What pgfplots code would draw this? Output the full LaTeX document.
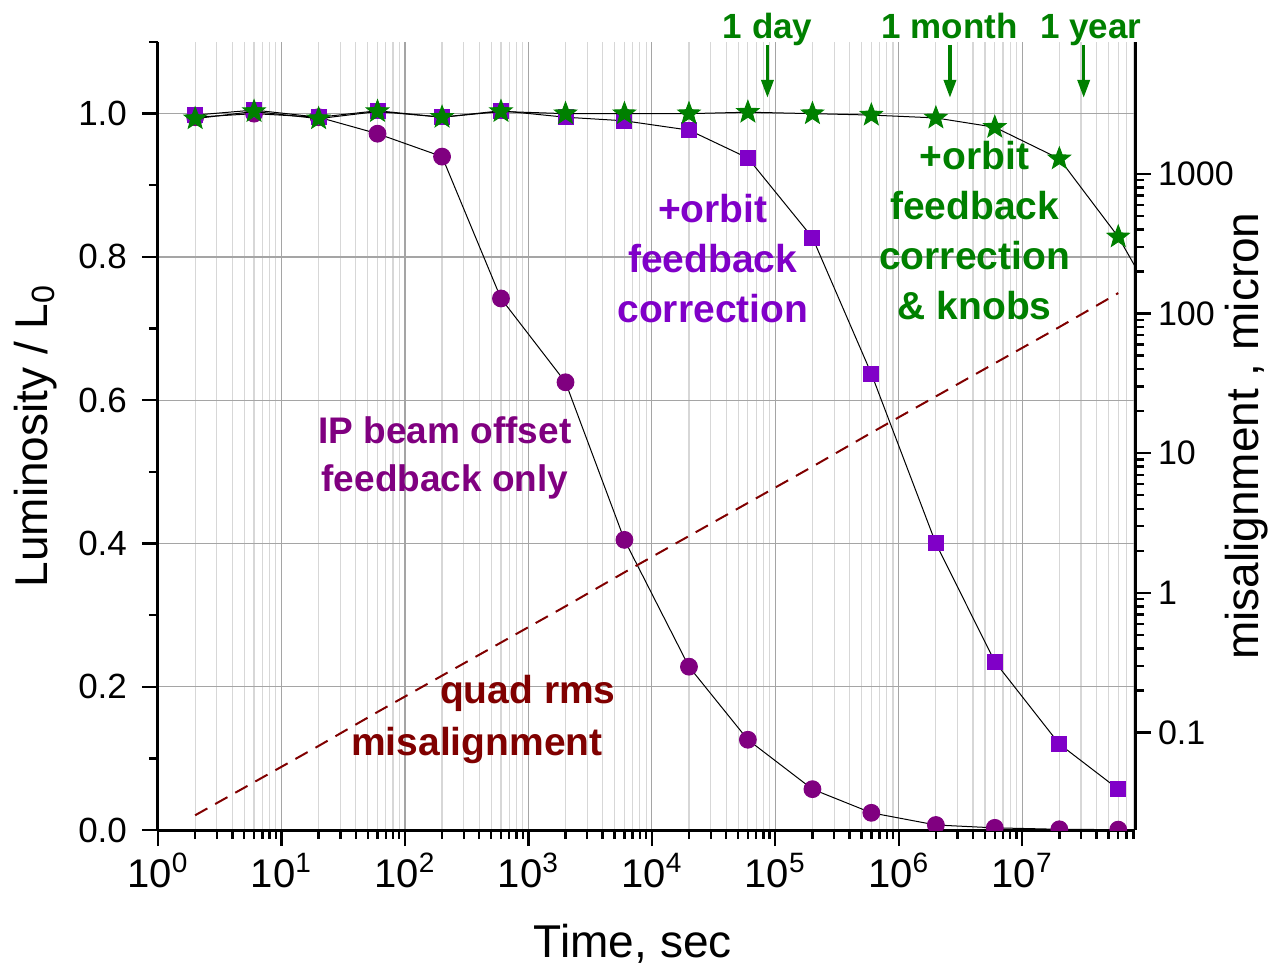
\documentclass[border=0pt]{standalone}
\usepackage{pgfplots}
\pgfplotsset{compat=1.18}
\usepackage{fontspec}
\setmainfont{Liberation Sans}
\usetikzlibrary{arrows.meta}

\definecolor{circ}{RGB}{128,0,128}
\definecolor{sq}{RGB}{128,0,200}
\definecolor{stargreen}{RGB}{0,128,0}
\definecolor{quad}{RGB}{128,0,0}
\definecolor{gmaj}{RGB}{165,165,165}
\definecolor{gmin}{RGB}{215,215,215}

% filled five-pointed star
\pgfdeclareplotmark{fstar}{%
  \pgfpathmoveto{\pgfqpointpolar{90}{\pgfplotmarksize}}%
  \pgfpathlineto{\pgfqpointpolar{126}{0.42\pgfplotmarksize}}%
  \pgfpathlineto{\pgfqpointpolar{162}{\pgfplotmarksize}}%
  \pgfpathlineto{\pgfqpointpolar{198}{0.42\pgfplotmarksize}}%
  \pgfpathlineto{\pgfqpointpolar{234}{\pgfplotmarksize}}%
  \pgfpathlineto{\pgfqpointpolar{270}{0.42\pgfplotmarksize}}%
  \pgfpathlineto{\pgfqpointpolar{306}{\pgfplotmarksize}}%
  \pgfpathlineto{\pgfqpointpolar{342}{0.42\pgfplotmarksize}}%
  \pgfpathlineto{\pgfqpointpolar{18}{\pgfplotmarksize}}%
  \pgfpathlineto{\pgfqpointpolar{54}{0.42\pgfplotmarksize}}%
  \pgfpathclose
  \pgfusepathqfillstroke
}

\begin{document}
\begin{tikzpicture}
\begin{axis}[name=main,
  scale only axis, width=488.5pt, height=394pt,
  xmode=log, xmin=1, xmax=8.2e7,
  ymin=0, ymax=1.1,
  axis x line*=bottom, axis y line*=left,
  axis line style={line width=1.5pt,-},
  tick style={line width=1.2pt, black},
  tick align=outside,
  major tick length=8pt, minor tick length=4.5pt,
  xtick={1,10,100,1e3,1e4,1e5,1e6,1e7},
  xticklabels={10\textsuperscript{0},10\textsuperscript{1},10\textsuperscript{2},10\textsuperscript{3},10\textsuperscript{4},10\textsuperscript{5},10\textsuperscript{6},10\textsuperscript{7}},
  minor xtick={2,3,4,5,6,7,8,9,20,30,40,50,60,70,80,90,200,300,400,500,600,700,800,900,
    2e3,3e3,4e3,5e3,6e3,7e3,8e3,9e3,2e4,3e4,4e4,5e4,6e4,7e4,8e4,9e4,
    2e5,3e5,4e5,5e5,6e5,7e5,8e5,9e5,2e6,3e6,4e6,5e6,6e6,7e6,8e6,9e6,
    2e7,3e7,4e7,5e7,6e7,7e7,8e7},
  ytick={0,0.2,0.4,0.6,0.8,1.0},
  minor ytick={0.1,0.3,0.5,0.7,0.9,1.1},
  yticklabel style={/pgf/number format/fixed, /pgf/number format/fixed zerofill, /pgf/number format/precision=1, /pgf/number format/assume math mode=true, font=\fontsize{17.5}{17.5}\selectfont, xshift=-4pt},
  xticklabel style={font=\fontsize{20}{20}\selectfont},
  xmajorgrids, xminorgrids, ymajorgrids,
  major grid style={gmaj, line width=0.6pt},
  minor grid style={gmin, line width=0.6pt},
  clip mode=individual, clip marker paths=true,
  xlabel={Time, sec},
  xlabel style={font=\fontsize{23}{23}\selectfont, at={(axis description cs:0.486,0)}, anchor=base, yshift=-63.5pt},
  ylabel={Luminosity / L\textsubscript{0}},
  ylabel style={font=\fontsize{23}{23}\selectfont, at={(axis description cs:-0.1136,0.5)}, anchor=base},
]
% IP beam offset feedback only
\addplot[black, line width=0.5pt, mark=*, mark size=4.2pt, mark options={fill=circ, draw=circ}] coordinates {
  (2,0.995) (6,1.0) (20,0.995) (60,0.972) (200,0.940) (600,0.742) (2000,0.625)
  (6000,0.405) (2e4,0.228) (6e4,0.126) (2e5,0.057) (6e5,0.024) (2e6,0.007)
  (6e6,0.003) (2e7,0.001) (6e7,0.0005)};
% + orbit feedback correction
\addplot[black, line width=0.5pt, mark=square*, mark size=3.75pt, mark options={fill=sq, draw=sq}] coordinates {
  (2,0.998) (6,1.005) (20,0.995) (60,1.004) (200,0.995) (600,1.004) (2000,0.995)
  (6000,0.990) (2e4,0.977) (6e4,0.938) (2e5,0.827) (6e5,0.637) (2e6,0.400)
  (6e6,0.235) (2e7,0.120) (6e7,0.057)};
% + orbit feedback correction & knobs
\addplot[black, line width=0.5pt, mark=fstar, mark size=5.8pt, mark options={fill=stargreen, draw=stargreen}] coordinates {
  (2,0.993) (6,1.003) (20,0.993) (60,1.003) (200,0.995) (600,1.003) (2000,1.0)
  (6000,1.0) (2e4,1.0) (6e4,1.002) (2e5,1.0) (6e5,0.998) (2e6,0.994)
  (6e6,0.981) (2e7,0.937) (6e7,0.828) (2e8,0.67)};

\node[text=sq, align=center, font=\bfseries\fontsize{19.5}{25}\selectfont] at (axis cs:31200,0.798) {+orbit\\feedback\\correction};
\node[text=stargreen, align=center, font=\bfseries\fontsize{19.5}{25}\selectfont] at (axis cs:4.12e6,0.837) {+orbit\\feedback\\correction\\\& knobs};
\node[text=circ, align=center, font=\bfseries\fontsize{18.5}{24}\selectfont] at (axis cs:211,0.520) {IP beam offset\\feedback only};
\node[text=quad, font=\bfseries\fontsize{19.5}{19.5}\selectfont] at (axis cs:991,0.190) {quad rms};
\node[text=quad, font=\bfseries\fontsize{19.5}{19.5}\selectfont] at (axis cs:383,0.1186) {misalignment};

\node[text=stargreen, anchor=base, font=\bfseries\fontsize{17.5}{17.5}\selectfont] at (axis cs:86900,1.105) {1 day};
\node[text=stargreen, anchor=base, font=\bfseries\fontsize{17.5}{17.5}\selectfont] at (axis cs:2.59e6,1.105) {1 month};
\node[text=stargreen, anchor=base, font=\bfseries\fontsize{17.5}{17.5}\selectfont] at (axis cs:3.59e7,1.105) {1 year};
\draw[stargreen, line width=1.75pt, -{Triangle[width=6pt,length=9pt]}] (axis cs:86400,1.096) -- (axis cs:86400,1.022);
\draw[stargreen, line width=1.75pt, -{Triangle[width=6pt,length=9pt]}] (axis cs:2.6e6,1.096) -- (axis cs:2.6e6,1.022);
\draw[stargreen, line width=1.75pt, -{Triangle[width=6pt,length=9pt]}] (axis cs:3.15e7,1.096) -- (axis cs:3.15e7,1.022);
\end{axis}

\begin{axis}[
  scale only axis, width=488.5pt, height=394pt,
  xmode=log, xmin=1, xmax=8.2e7,
  ymode=log, ymin=0.02, ymax=8800,
  hide x axis, axis y line*=right,
  axis line style={line width=1.5pt,-},
  tick style={line width=1.2pt, black},
  tick align=outside,
  major tick length=8pt, minor tick length=4.5pt,
  ytick={0.1,1,10,100,1000},
  yticklabels={0.1,1,10,100,1000},
  yticklabel style={font=\fontsize{17}{17}\selectfont},
  ylabel={misalignment , micron},
  ylabel style={font=\fontsize{23}{23}\selectfont, at={(axis description cs:1.126,0.5)}, anchor=base},
]
\addplot[quad, line width=1pt, dash pattern=on 7pt off 4.5pt] coordinates {
  (2,0.0255) (6,0.044) (20,0.08) (60,0.14) (200,0.255) (600,0.44) (2000,0.8)
  (6000,1.4) (2e4,2.55) (6e4,4.4) (2e5,8) (6e5,14) (2e6,25.5) (6e6,44)
  (2e7,80) (6e7,140)};
\end{axis}

\pgfresetboundingbox
\path ([shift={(-79pt,-70.5pt)}]main.south west) rectangle ([shift={(68pt,21pt)}]main.north east);
\end{tikzpicture}
\end{document}
